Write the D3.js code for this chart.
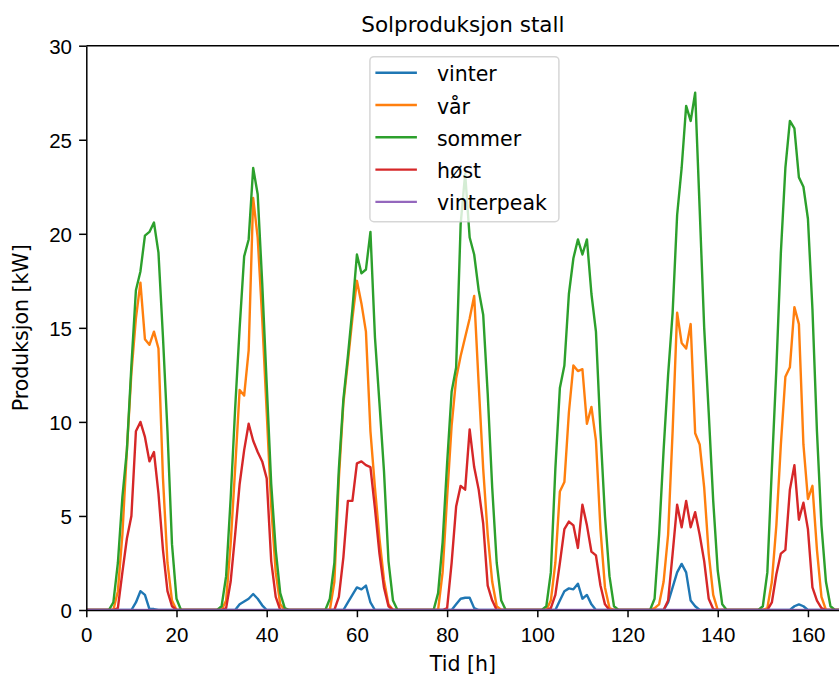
<!DOCTYPE html>
<html lang="no">
<head>
  <meta charset="UTF-8">
  <title>Solproduksjon stall</title>
  <script src="https://cdn.jsdelivr.net/npm/d3@7/dist/d3.min.js"></script>
  <style>
    body {
      margin: 0;
      background: #fff;
    }
    svg {
      display: block;
      font-family: "DejaVu Sans", sans-serif;
    }
    .tick text {
      font-size: 20.5px;
      fill: #000;
    }
    .series {
      fill: none;
      stroke-width: 2.4;
      stroke-linejoin: round;
    }
  </style>
</head>
<body>
  <script>
    // one value per hour, 7 days x 24 h
    const vinter = [
      0, 0, 0, 0, 0, 0, 0, 0, 0, 0, 0, 0.4, 1.0, 0.8, 0.05, 0.05, 0, 0, 0, 0, 0, 0, 0, 0,
      0, 0, 0, 0, 0, 0, 0, 0, 0, 0, 0.3, 0.45, 0.6, 0.85, 0.6, 0.25, 0, 0, 0, 0, 0, 0, 0, 0,
      0, 0, 0, 0, 0, 0, 0, 0, 0, 0, 0.4, 0.8, 1.2, 1.1, 1.3, 0.4, 0, 0, 0, 0, 0, 0, 0, 0,
      0, 0, 0, 0, 0, 0, 0, 0, 0, 0, 0.3, 0.6, 0.65, 0.65, 0.1, 0, 0, 0, 0, 0, 0, 0, 0, 0,
      0, 0, 0, 0, 0, 0, 0, 0, 0, 0.5, 1.0, 1.15, 1.1, 1.4, 0.6, 0.8, 0.3, 0, 0, 0, 0, 0, 0, 0,
      0, 0, 0, 0, 0, 0, 0, 0, 0, 0.4, 1.2, 2.0, 2.45, 2.0, 0.5, 0.2, 0, 0, 0, 0, 0, 0, 0, 0,
      0, 0, 0, 0, 0, 0, 0, 0, 0, 0, 0, 0, 0, 0.2, 0.3, 0.2, 0, 0, 0, 0, 0, 0, 0, 0
    ];
    const vaar = [
      0, 0, 0, 0, 0, 0, 0, 1.0, 4.0, 8.5, 12.6, 15.5, 17.4, 14.4, 14.1, 14.8, 13.9, 7.0, 2.5, 0.5, 0, 0, 0, 0,
      0, 0, 0, 0, 0, 0, 0, 0.5, 3.5, 7.5, 11.7, 11.4, 13.8, 21.9, 19.8, 15.5, 10.5, 5.5, 2.0, 0.3, 0, 0, 0, 0,
      0, 0, 0, 0, 0, 0, 0, 1.5, 7.0, 11.0, 13.2, 15.5, 17.5, 16.3, 14.8, 9.5, 6.5, 3.8, 1.6, 0.3, 0, 0, 0, 0,
      0, 0, 0, 0, 0, 0, 0, 2.0, 6.0, 9.8, 12.3, 13.5, 14.5, 15.5, 16.7, 12.0, 7.5, 4.0, 1.5, 0.2, 0, 0, 0, 0,
      0, 0, 0, 0, 0, 0, 0, 0.5, 2.5, 6.3, 6.8, 10.5, 13.0, 12.7, 12.8, 9.9, 10.8, 9.0, 4.3, 1.2, 0.1, 0, 0, 0,
      0, 0, 0, 0, 0, 0, 0.1, 0.3, 1.5, 4.0, 9.5, 15.8, 14.2, 13.9, 15.2, 9.4, 8.8, 6.5, 3.0, 0.8, 0, 0, 0, 0,
      0, 0, 0, 0, 0, 0, 0, 0.1, 1.5, 4.5, 8.8, 12.4, 12.9, 16.1, 15.2, 8.8, 5.9, 6.6, 3.2, 0.7, 0, 0, 0, 0
    ];
    const sommer = [
      0, 0, 0, 0, 0, 0, 0.4, 2.5, 6.0, 8.5, 13.0, 17.0, 18.0, 19.9, 20.1, 20.6, 19.0, 14.5, 9.5, 3.5, 0.6, 0, 0, 0,
      0, 0, 0, 0, 0, 0, 0.2, 1.8, 5.9, 10.7, 15.0, 18.8, 19.7, 23.5, 22.1, 17.4, 12.0, 6.7, 3.2, 0.9, 0.1, 0, 0, 0,
      0, 0, 0, 0, 0, 0, 0.6, 2.5, 7.5, 11.2, 13.5, 16.0, 18.9, 17.9, 18.1, 20.1, 14.5, 11.0, 7.4, 2.6, 0.5, 0, 0, 0,
      0, 0, 0, 0, 0, 0, 0.9, 3.6, 7.8, 11.6, 12.9, 20.5, 23.2, 19.8, 18.9, 17.0, 15.7, 11.5, 6.5, 2.5, 0.5, 0, 0, 0,
      0, 0, 0, 0, 0, 0, 0.2, 2.0, 7.5, 11.8, 13.0, 16.8, 18.7, 19.7, 18.9, 19.7, 16.8, 14.8, 9.5, 5.0, 1.8, 0.2, 0, 0,
      0, 0, 0, 0, 0, 0, 0.6, 4.0, 8.5, 12.5, 15.8, 21.0, 23.5, 26.8, 26.0, 27.5, 21.3, 15.0, 10.5, 5.8, 2.1, 0.3, 0, 0,
      0, 0, 0, 0, 0, 0, 0.2, 2.0, 7.5, 12.8, 19.0, 23.5, 26.0, 25.6, 23.0, 22.5, 20.8, 16.0, 9.5, 4.5, 1.5, 0.2, 0, 0
    ];
    const hoest = [
      0, 0, 0, 0, 0, 0, 0, 0.1, 2.0, 3.8, 5.0, 9.5, 10.0, 9.2, 7.9, 8.4, 6.2, 3.2, 1.0, 0.2, 0, 0, 0, 0,
      0, 0, 0, 0, 0, 0, 0, 0.1, 1.5, 4.0, 6.7, 8.5, 9.9, 9.0, 8.4, 7.9, 7.0, 2.6, 0.7, 0, 0, 0, 0, 0,
      0, 0, 0, 0, 0, 0, 0, 0, 0.7, 2.8, 5.8, 5.8, 7.8, 7.9, 7.7, 7.6, 5.4, 3.0, 1.2, 0.2, 0, 0, 0, 0,
      0, 0, 0, 0, 0, 0, 0, 0, 0.1, 2.5, 5.5, 6.6, 6.4, 9.6, 7.6, 6.4, 4.6, 1.3, 0.5, 0, 0, 0, 0, 0,
      0, 0, 0, 0, 0, 0, 0, 0.1, 0.8, 2.5, 4.3, 4.7, 4.5, 3.3, 5.6, 4.5, 3.1, 2.9, 1.3, 0.3, 0, 0, 0, 0,
      0, 0, 0, 0, 0, 0, 0, 0, 0, 0.5, 3.0, 5.6, 4.4, 5.8, 4.4, 5.2, 4.0, 2.6, 0.6, 0.05, 0, 0, 0, 0,
      0, 0, 0, 0, 0, 0, 0, 0, 0.4, 1.9, 3.0, 3.2, 6.4, 7.7, 4.8, 5.7, 4.3, 1.2, 0.5, 0.1, 0, 0, 0, 0
    ];
    const vinterpeak = [
      0, 0, 0, 0, 0, 0, 0, 0, 0, 0, 0, 0, 0, 0, 0, 0, 0, 0, 0, 0, 0, 0, 0, 0,
      0, 0, 0, 0, 0, 0, 0, 0, 0, 0, 0, 0, 0, 0, 0, 0, 0, 0, 0, 0, 0, 0, 0, 0,
      0, 0, 0, 0, 0, 0, 0, 0, 0, 0, 0, 0, 0, 0, 0, 0, 0, 0, 0, 0, 0, 0, 0, 0,
      0, 0, 0, 0, 0, 0, 0, 0, 0, 0, 0, 0, 0, 0, 0, 0, 0, 0, 0, 0, 0, 0, 0, 0,
      0, 0, 0, 0, 0, 0, 0, 0, 0, 0, 0, 0, 0, 0, 0, 0, 0, 0, 0, 0, 0, 0, 0, 0,
      0, 0, 0, 0, 0, 0, 0, 0, 0, 0, 0, 0, 0, 0, 0, 0, 0, 0, 0, 0, 0, 0, 0, 0,
      0, 0, 0, 0, 0, 0, 0, 0, 0, 0, 0, 0, 0, 0, 0, 0, 0, 0, 0, 0, 0, 0, 0, 0
    ];

    const seriesNames = ["vinter", "vår", "sommer", "høst", "vinterpeak"];
    const seriesColors = ["#1f77b4", "#ff7f0e", "#2ca02c", "#d62728", "#9467bd"];
    const seriesValues = [vinter, vaar, sommer, hoest, vinterpeak];
    const xTicks = [0, 20, 40, 60, 80, 100, 120, 140, 160];
    const yTicks = [0, 5, 10, 15, 20, 25, 30];

    const width = 839, height = 675;
    const plotLeft = 86.3, plotRight = 839.5, plotTop = 45.7, plotBottom = 610;
    const midX = (plotLeft + plotRight) / 2;

    const x = d3.scaleLinear().domain([0, 167]).range([plotLeft, plotRight]);
    const y = d3.scaleLinear().domain([0, 30]).range([plotBottom, plotTop]);

    const svg = d3.select("body").append("svg")
      .attr("width", width)
      .attr("height", height);

    svg.append("defs").append("clipPath").attr("id", "plot-clip")
      .append("rect")
      .attr("x", plotLeft).attr("y", plotTop)
      .attr("width", plotRight - plotLeft).attr("height", plotBottom - plotTop);

    const line = d3.line()
      .x((d, i) => x(i))
      .y(d => y(d));

    svg.append("g")
      .attr("clip-path", "url(#plot-clip)")
      .selectAll("path")
      .data(seriesValues)
      .join("path")
      .attr("class", "series")
      .attr("stroke", (d, i) => seriesColors[i])
      .attr("d", line);

    // axes
    const xAxis = svg.append("g")
      .attr("transform", `translate(0,${plotBottom})`)
      .call(d3.axisBottom(x).tickValues(xTicks).tickFormat(d3.format("d"))
        .tickSize(7.2).tickSizeOuter(0));
    xAxis.selectAll("text").attr("dy", null).attr("y", 32);

    const yAxis = svg.append("g")
      .attr("transform", `translate(${plotLeft},0)`)
      .call(d3.axisLeft(y).tickValues(yTicks).tickFormat(d3.format("d"))
        .tickSize(7.2).tickSizeOuter(0).tickPadding(7.1));
    yAxis.selectAll("text").attr("dy", "0.36em");

    svg.selectAll(".domain").attr("stroke", "#000").attr("stroke-width", 1.5);
    svg.selectAll(".tick line").attr("stroke", "#000").attr("stroke-width", 1.5);

    svg.append("line")
      .attr("x1", plotLeft).attr("x2", plotRight)
      .attr("y1", plotTop).attr("y2", plotTop)
      .attr("stroke", "#000").attr("stroke-width", 1.5);

    // labels
    svg.append("text")
      .attr("x", midX).attr("y", 32)
      .attr("text-anchor", "middle")
      .style("font-size", "21.5px")
      .text("Solproduksjon stall");

    svg.append("text")
      .attr("x", midX).attr("y", 671)
      .attr("text-anchor", "middle")
      .style("font-size", "20.5px")
      .text("Tid [h]");

    svg.append("text")
      .attr("transform", `translate(28,${(plotTop + plotBottom) / 2}) rotate(-90)`)
      .attr("text-anchor", "middle")
      .style("font-size", "20.5px")
      .text("Produksjon [kW]");

    // legend, upper center
    const legW = 189, legH = 165, rowH = 32.3;
    const legend = svg.append("g")
      .attr("transform", `translate(${midX - legW / 2 + 1.5},${plotTop + 11})`);

    legend.append("rect")
      .attr("width", legW).attr("height", legH)
      .attr("rx", 4)
      .attr("fill", "#fff").attr("fill-opacity", 0.8)
      .attr("stroke", "#cccccc").attr("stroke-opacity", 0.8).attr("stroke-width", 1.5);

    const rows = legend.selectAll("g.row")
      .data(seriesNames)
      .join("g")
      .attr("class", "row")
      .attr("transform", (d, i) => `translate(0,${16 + i * rowH})`);

    rows.append("line")
      .attr("x1", 5.5).attr("x2", 47)
      .attr("stroke", (d, i) => seriesColors[i])
      .attr("stroke-width", 2.4);

    rows.append("text")
      .attr("x", 67).attr("y", 8.5)
      .style("font-size", "20.5px")
      .text(d => d);
  </script>
</body>
</html>
